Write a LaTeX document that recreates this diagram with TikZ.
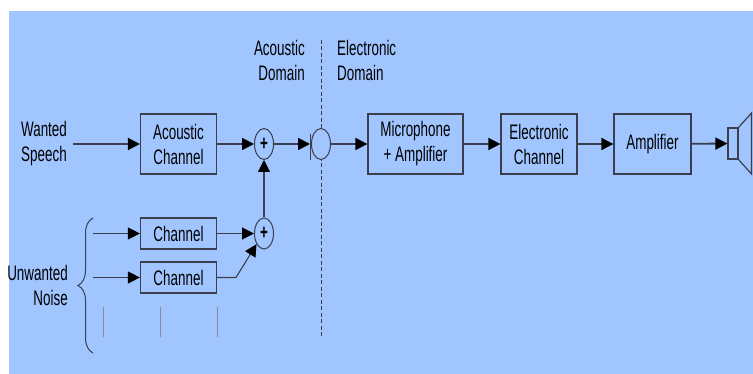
\documentclass[tikz,border=0pt]{standalone}
\usepackage{fontspec}
\setmainfont{Liberation Sans}[FakeStretch=0.64]
\usetikzlibrary{arrows.meta,shapes.geometric,decorations.pathreplacing}
\definecolor{skyback}{RGB}{160,197,255}
\definecolor{wire}{RGB}{58,62,78}
\tikzset{
  block/.style={draw=wire, line width=1.2pt, minimum width=76pt, minimum height=60pt, inner sep=0pt, align=center},
  smallblock/.style={block, minimum height=31pt},
  summer/.style={draw=wire, line width=1pt, ellipse, minimum width=19pt, minimum height=31pt, inner sep=0pt},
  textlbl/.style={inner sep=0pt, align=center},
  flow/.style={draw=wire, line width=1.8pt, -{Triangle[length=12pt,width=12pt,color=black]}},
  noiseflow/.style={flow, line width=1.1pt},
}
\begin{document}
\begin{tikzpicture}[x=1pt,y=-1pt,font=\fontsize{21}{25}\selectfont]
\useasboundingbox (0,0) rectangle (753,374);
\fill[white] (0,0) rectangle (753,374);
\fill[skyback] (9,11) rectangle (753,374);

%Domain split
\draw [wire, dash pattern=on 4pt off 2.5pt, line width=0.9pt] (321,40) -- (321,337);
\node[textlbl, anchor=north east, align=right] (acdom) at (305,40) {Acoustic\\Domain};
\node[textlbl, anchor=north west, align=left] (eldom) at (337,40) {Electronic\\Domain};

%Wanted path
\node[textlbl, outer sep=6pt] (wanted) at (44,144) {Wanted\\Speech};
\node[block] (acch) at (178.5,144) {Acoustic\\Channel};
\node[summer] (sumA) at (264,144) {\textbf{+}};
\node[summer, fill=skyback] (mic) at (321,144) {};
\draw [wire, line width=1.2pt] ([xshift=-0.5pt]mic.west) ++(0,-10) -- ++(0,26);
\node[block, minimum width=95pt] (micamp) at (415.5,144) {Microphone\\+ Amplifier};
\node[block] (elch) at (539,144) {Electronic\\Channel};
\node[block, minimum width=77pt] (amp) at (652.5,144) {Amplifier};
\node[draw=wire, line width=1.2pt, minimum width=10pt, minimum height=31pt, inner sep=0pt] (spk) at (733,143.5) {};
\coordinate (conetop) at (751.5,113);
\coordinate (conebot) at (751.5,174);
\draw [wire, line width=1.2pt] (spk.north east) -- (conetop) -- (conebot) -- (spk.south east);

\draw [flow] (wanted) -- (acch);
\draw [flow] (acch) -- (sumA);
\draw [flow, shorten >=1pt] (sumA) -- (mic.west);
\draw [flow] (mic) -- (micamp);
\draw [flow] (micamp) -- (elch);
\draw [flow] (elch) -- (amp);
\draw [flow] (amp) -- (spk);

%Noise paths
\node[smallblock] (chA) at (178.5,233.5) {Channel};
\node[smallblock] (chB) at (178.5,277.5) {Channel};
\node[summer] (sumB) at (264,233.5) {\textbf{+}};
\coordinate (inA) at (93,233.5);
\coordinate (inB) at (93,277.5);
\coordinate (kink) at (236,277.5);
\draw [noiseflow] (inA) -- (chA);
\draw [noiseflow] (inB) -- (chB);
\draw [noiseflow] (chA) -- (sumB);
\draw [noiseflow] (chB.east) -- (kink) -- (sumB.235);
\draw [noiseflow] (sumB) -- (sumA);

\node[textlbl, anchor=east, align=right] (unwanted) at (68,285) {Unwanted\\Noise};
\draw [wire, line width=1pt, decorate, decoration={brace, amplitude=15pt}] (93,353) -- (93,218);
\foreach \x in {103,160,217}
	\draw [wire!60, line width=0.6pt] (\x,307) -- (\x,337);
\end{tikzpicture}
\end{document}
